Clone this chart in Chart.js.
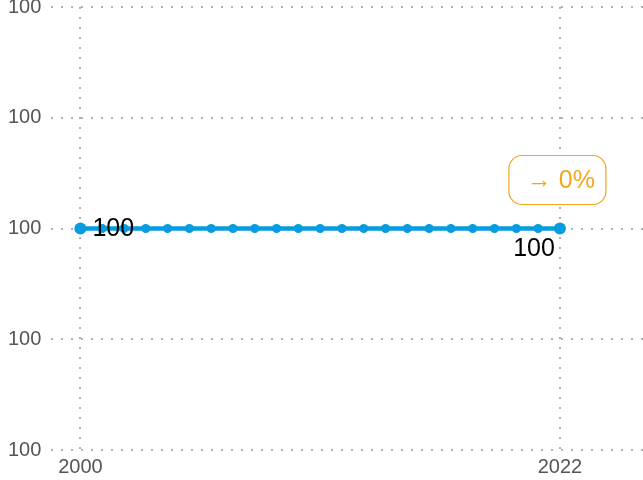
<!DOCTYPE html>
<html>
<head>
<meta charset="utf-8">
<script src="https://cdn.jsdelivr.net/npm/chart.js@4/dist/chart.umd.min.js"></script>
<style>
  html, body { margin: 0; padding: 0; background: #fff; overflow: hidden; }
  /* canvas is slightly taller and shifted up so the top tick label is cut like the original */
  #wrap { position: relative; width: 643px; height: 494px; margin-top: -10px; }
</style>
</head>
<body>
<div id="wrap"><canvas id="chart"></canvas></div>
<script>
// ── Data ────────────────────────────────────────────────────────────────
const years  = [2000,2001,2002,2003,2004,2005,2006,2007,2008,2009,2010,2011,
                2012,2013,2014,2015,2016,2017,2018,2019,2020,2021,2022];
const values = [100,100,100,100,100,100,100,100,100,100,100,100,
                100,100,100,100,100,100,100,100,100,100,100];
const xTicks = [2000, 2022];
const yTicks = [99.98, 99.99, 100, 100.01, 100.02];
const changeLabel = '→ 0%';

const BLUE   = '#079ce0';
const ORANGE = '#f3a51f';
const GRID   = '#b0b0b0';
const TICK   = '#555555';

// ── Point labels + change badge ──────────────────────────────────────────
const labelPlugin = {
  id: 'labels',
  afterDatasetsDraw(chart) {
    const ctx  = chart.ctx;
    const pts  = chart.getDatasetMeta(0).data;
    const first = pts[0], last = pts[pts.length - 1];
    ctx.save();
    ctx.fillStyle = '#000';
    ctx.font = '25px "Liberation Sans", Arial, sans-serif';
    ctx.textAlign = 'left';
    ctx.textBaseline = 'middle';
    ctx.fillText(String(values[0]), first.x + 12, first.y + 1);
    ctx.textAlign = 'right';
    ctx.fillText(String(values[values.length - 1]), last.x - 5, last.y + 21);

    // badge above the last point
    const w = 97, h = 49, r = 13;
    const bx = last.x - 51, by = last.y - 73;
    ctx.beginPath();
    ctx.roundRect(bx, by, w, h, r);
    ctx.fillStyle = '#fff';
    ctx.fill();
    ctx.lineWidth = 1.2;
    ctx.strokeStyle = ORANGE;
    ctx.stroke();
    ctx.fillStyle = ORANGE;
    ctx.font = '25px "Liberation Sans", Arial, sans-serif';
    ctx.textAlign = 'center';
    ctx.textBaseline = 'middle';
    ctx.fillText(changeLabel, last.x + 1, by + h / 2 + 1);
    ctx.restore();
  }
};

new Chart(document.getElementById('chart').getContext('2d'), {
  type: 'line',
  data: {
    datasets: [{
      data: years.map((y, i) => ({ x: y, y: values[i] })),
      borderColor: BLUE,
      backgroundColor: BLUE,
      borderWidth: 4.5,
      pointRadius: ctx => (ctx.dataIndex === 0 || ctx.dataIndex === years.length - 1) ? 6 : 4.5,
      pointBorderWidth: 0,
      pointBackgroundColor: BLUE,
      tension: 0,
      clip: false,
    }]
  },
  options: {
    responsive: true,
    maintainAspectRatio: false,
    animation: false,
    layout: { autoPadding: false, padding: { left: -2, right: 0, top: 0, bottom: 0 } },
    plugins: { legend: { display: false }, tooltip: { enabled: false } },
    scales: {
      x: {
        type: 'linear',
        min: 1998.668,
        max: 2025.812,
        afterBuildTicks: axis => { axis.ticks = xTicks.map(v => ({ value: v })); },
        ticks: {
          color: TICK,
          font: { size: 20, family: '"Liberation Sans", Arial, sans-serif' },
          padding: 5,
          maxRotation: 0,
          callback: v => String(v),
        },
        grid: { color: GRID, lineWidth: 2, drawTicks: false },
        border: { display: false, dash: [2, 8] },
      },
      y: {
        min: 99.98,
        max: 100.02,
        afterBuildTicks: axis => { axis.ticks = yTicks.map(v => ({ value: v })); },
        ticks: {
          color: TICK,
          font: { size: 20, lineHeight: 0.7, family: '"Liberation Sans", Arial, sans-serif' },
          padding: 10,
          callback: v => String(Math.round(v)),
        },
        grid: { color: GRID, lineWidth: 2, drawTicks: false },
        border: { display: false, dash: [2, 8] },
      }
    }
  },
  plugins: [labelPlugin]
});
</script>
</body>
</html>
